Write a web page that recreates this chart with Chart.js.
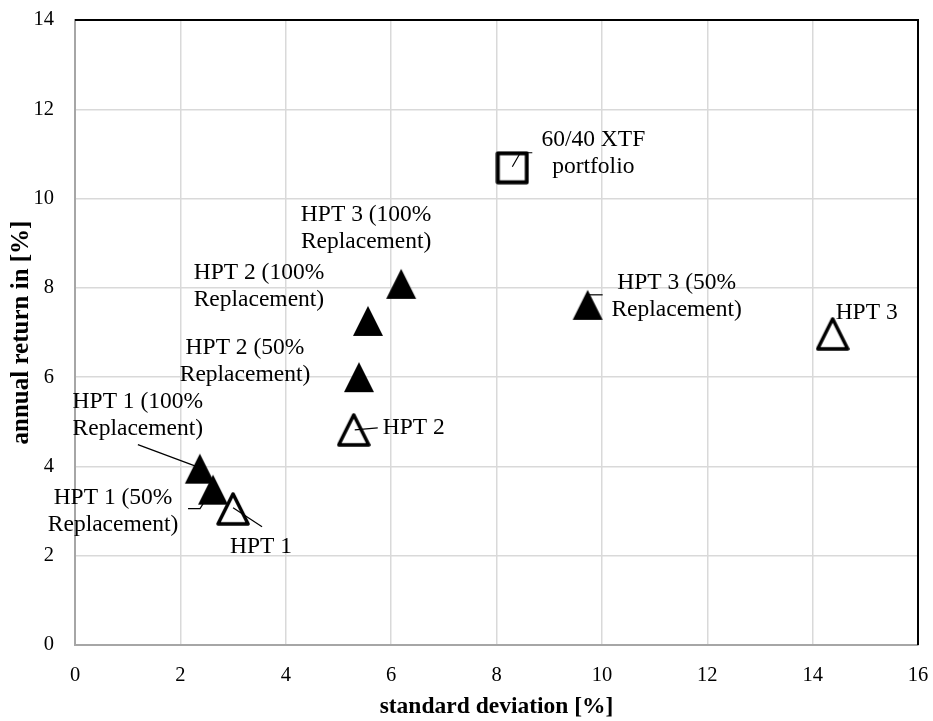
<!DOCTYPE html>
<html>
<head>
<meta charset="utf-8">
<script src="https://cdn.jsdelivr.net/npm/chart.js@4/dist/chart.umd.min.js"></script>
<style>
  body { margin: 0; background: #fff; }
  #wrap { width: 933px; height: 721px; }
</style>
</head>
<body>
<div id="wrap"><canvas id="risk-return-chart" width="933" height="721"></canvas></div>
<script>
// original portfolios
const baseNames = [['HPT 1'], ['HPT 2'], ['HPT 3']];
const baseSd = [3.0, 5.29, 14.38];
const baseReturn = [3.05, 4.82, 6.97];

// portfolios with replacement
const replNames = [
	['HPT 1 (50%', 'Replacement)'],
	['HPT 1 (100%', 'Replacement)'],
	['HPT 2 (50%', 'Replacement)'],
	['HPT 2 (100%', 'Replacement)'],
	['HPT 3 (50%', 'Replacement)'],
	['HPT 3 (100%', 'Replacement)']
];
const replSd = [2.62, 2.37, 5.39, 5.56, 9.73, 6.19];
const replReturn = [3.48, 3.95, 6.0, 7.26, 7.62, 8.09];

// benchmark
const benchNames = [['60/40 XTF', 'portfolio']];
const benchSd = [8.30];
const benchReturn = [10.69];

const xTicks = [0, 2, 4, 6, 8, 10, 12, 14, 16];
const yTicks = [0, 2, 4, 6, 8, 10, 12, 14];

// where each label sits relative to its marker, plus leader line
const labelPlacement = {
	'HPT 1': { dx: 28, dy: 38, leader: [[0, -1], [29, 18]] },
	'HPT 2': { dx: 60, dy: -2, leader: [[1, 0], [24, -2]] },
	'HPT 3': { dx: 34, dy: -21 },
	'HPT 1 (50%': { dx: -100, dy: 8, leader: [[-25, 19], [-13, 19], [-8, 11]] },
	'HPT 1 (100%': { dx: -62, dy: -67, leader: [[-62, -24], [-3, -2]] },
	'HPT 2 (50%': { dx: -114, dy: -29 },
	'HPT 2 (100%': { dx: -109, dy: -48 },
	'HPT 3 (50%': { dx: 89, dy: -22, leader: [[0, -10], [15, -10]] },
	'HPT 3 (100%': { dx: -35, dy: -69 },
	'60/40 XTF': { dx: 81, dy: -28, leader: [[0, -1], [8, -15], [20, -15]] }
};

function markerCanvas(draw) {
	const c = document.createElement('canvas');
	c.width = 34;
	c.height = 34;
	draw(c.getContext('2d'));
	return c;
}

const filledTriangle = markerCanvas(ctx => {
	ctx.fillStyle = '#000';
	ctx.beginPath();
	ctx.moveTo(17, 2);
	ctx.lineTo(32, 32);
	ctx.lineTo(2, 32);
	ctx.closePath();
	ctx.fill();
});

const openTriangle = markerCanvas(ctx => {
	ctx.strokeStyle = '#000';
	ctx.lineWidth = 3.5;
	ctx.lineJoin = 'round';
	ctx.beginPath();
	ctx.moveTo(17, 2);
	ctx.lineTo(32, 32);
	ctx.lineTo(2, 32);
	ctx.closePath();
	ctx.stroke();
});

const openSquare = markerCanvas(ctx => {
	ctx.strokeStyle = '#000';
	ctx.lineWidth = 4;
	ctx.lineJoin = 'round';
	ctx.strokeRect(2.5, 2.5, 29, 29);
});

function toPoints(names, xs, ys) {
	return xs.map((x, i) => ({ x: x, y: ys[i], name: names[i] }));
}

// no extra room for overhanging tick labels, the layout padding handles it
function noLabelPadding(scale) {
	scale.paddingTop = 0;
	scale.paddingBottom = 0;
	scale.paddingLeft = 0;
	scale.paddingRight = 0;
}

const frame = {
	id: 'frame',
	afterDraw(chart) {
		const { ctx, chartArea: a } = chart;
		ctx.save();
		ctx.strokeStyle = '#000';
		ctx.lineWidth = 2;
		ctx.beginPath();
		ctx.moveTo(a.left, a.top);
		ctx.lineTo(a.right, a.top);
		ctx.lineTo(a.right, a.bottom);
		ctx.stroke();
		ctx.restore();
	}
};

const pointLabels = {
	id: 'pointLabels',
	afterDatasetsDraw(chart) {
		const ctx = chart.ctx;
		ctx.save();
		ctx.font = '23.5px "Liberation Serif", "Times New Roman", serif';
		ctx.fillStyle = '#000';
		ctx.strokeStyle = '#000';
		ctx.lineWidth = 1.2;
		ctx.textAlign = 'center';
		ctx.textBaseline = 'middle';
		chart.data.datasets.forEach((ds, di) => {
			chart.getDatasetMeta(di).data.forEach((el, i) => {
				const lines = ds.data[i].name;
				const p = labelPlacement[lines[0]];
				if (!p) return;
				lines.forEach((t, k) => ctx.fillText(t, el.x + p.dx, el.y + p.dy + k * 27));
				if (p.leader) {
					ctx.beginPath();
					p.leader.forEach(([lx, ly], k) => {
						if (k === 0) ctx.moveTo(el.x + lx, el.y + ly);
						else ctx.lineTo(el.x + lx, el.y + ly);
					});
					ctx.stroke();
				}
			});
		});
		ctx.restore();
	}
};

const serif = '"Liberation Serif", "Times New Roman", serif';
const tickFont = { family: serif, size: 20.5 };

new Chart(document.getElementById('risk-return-chart'), {
	type: 'scatter',
	data: {
		datasets: [
			{ data: toPoints(baseNames, baseSd, baseReturn), pointStyle: openTriangle },
			{ data: toPoints(replNames, replSd, replReturn), pointStyle: filledTriangle },
			{ data: toPoints(benchNames, benchSd, benchReturn), pointStyle: openSquare }
		]
	},
	options: {
		responsive: false,
		animation: false,
		events: [],
		layout: { padding: { top: 20, right: 15, left: 0, bottom: 0 } },
		plugins: { legend: { display: false }, tooltip: { enabled: false } },
		scales: {
			x: {
				type: 'linear',
				min: xTicks[0],
				max: xTicks[xTicks.length - 1],
				afterFit(scale) { scale.height = 76; noLabelPadding(scale); },
				afterBuildTicks(scale) { scale.ticks = xTicks.map(v => ({ value: v })); },
				ticks: { color: '#000', font: tickFont, padding: 18 },
				grid: { color: '#d9d9d9', lineWidth: 1.5, drawTicks: false },
				border: { color: '#a6a6a6', width: 2 },
				title: {
					display: true,
					text: 'standard deviation [%]',
					color: '#000',
					font: { family: serif, size: 23.5, weight: 'bold' },
					padding: { top: 0, bottom: 0 }
				}
			},
			y: {
				type: 'linear',
				min: yTicks[0],
				max: yTicks[yTicks.length - 1],
				afterFit(scale) { scale.width = 75; noLabelPadding(scale); },
				afterBuildTicks(scale) { scale.ticks = yTicks.map(v => ({ value: v })); },
				ticks: { color: '#000', font: tickFont, padding: 21 },
				grid: { color: '#d9d9d9', lineWidth: 1.5, drawTicks: false },
				border: { color: '#a6a6a6', width: 2 },
				title: {
					display: true,
					text: 'annual return in [%]',
					color: '#000',
					font: { family: serif, size: 25, weight: 'bold' },
					padding: { top: 7, bottom: 0 }
				}
			}
		}
	},
	plugins: [frame, pointLabels]
});
</script>
</body>
</html>
